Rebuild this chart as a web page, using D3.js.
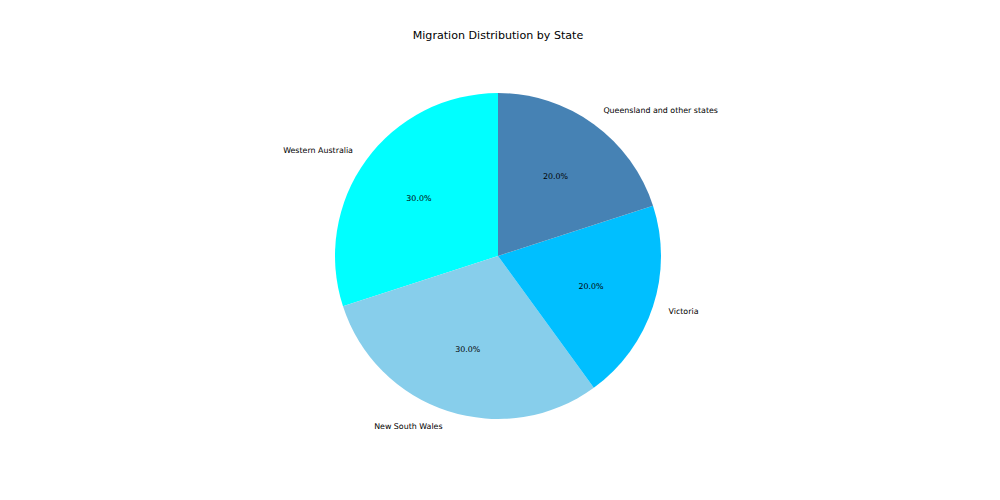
<!DOCTYPE html>
<html>
<head>
<meta charset="utf-8">
<script src="https://cdn.jsdelivr.net/npm/d3@7"></script>
<style>
  body { margin: 0; background: #fff; }
  text { font-family: "DejaVu Sans", sans-serif; fill: #000; }
</style>
</head>
<body>
<svg id="chart" width="1000" height="500"></svg>
<script>
// Chart data
const states = ["Western Australia", "New South Wales", "Victoria", "Queensland and other states"];
const shares = [30, 30, 20, 20];
const colors = ["#00ffff", "#87ceeb", "#00bfff", "#4682b4"];

const svg = d3.select("#chart");
const cx = 498, cy = 256, r = 163;

svg.append("text")
    .attr("x", 498)
    .attr("y", 35)
    .attr("text-anchor", "middle")
    .attr("dominant-baseline", "central")
    .style("font-size", "11.1px")
    .text("Migration Distribution by State");

// Matplotlib style: start at top, go counterclockwise
const pie = d3.pie()
    .sort(null)
    .value(d => d)
    .startAngle(0)
    .endAngle(-2 * Math.PI);

const arcs = pie(shares);
const arc = d3.arc().innerRadius(0).outerRadius(r);

const g = svg.append("g").attr("transform", `translate(${cx},${cy})`);

g.selectAll("path")
    .data(arcs)
    .enter()
    .append("path")
    .attr("d", arc)
    .attr("fill", (d, i) => colors[i]);

// point at a fraction of the radius, at slice middle
function pos(d, k) {
    const a = (d.startAngle + d.endAngle) / 2;
    return [Math.sin(a) * r * k, -Math.cos(a) * r * k];
}

g.selectAll(".lbl")
    .data(arcs)
    .enter()
    .append("text")
    .attr("class", "lbl")
    .attr("x", d => pos(d, 1.1)[0])
    .attr("y", d => pos(d, 1.1)[1])
    .attr("text-anchor", d => pos(d, 1.1)[0] < 0 ? "end" : "start")
    .attr("dominant-baseline", "central")
    .style("font-size", "7.9px")
    .text((d, i) => states[i]);

g.selectAll(".pct")
    .data(arcs)
    .enter()
    .append("text")
    .attr("class", "pct")
    .attr("x", d => pos(d, 0.6)[0])
    .attr("y", d => pos(d, 0.6)[1])
    .attr("text-anchor", "middle")
    .attr("dominant-baseline", "central")
    .style("font-size", "7.9px")
    .text(d => d.data.toFixed(1) + "%");
</script>
</body>
</html>
